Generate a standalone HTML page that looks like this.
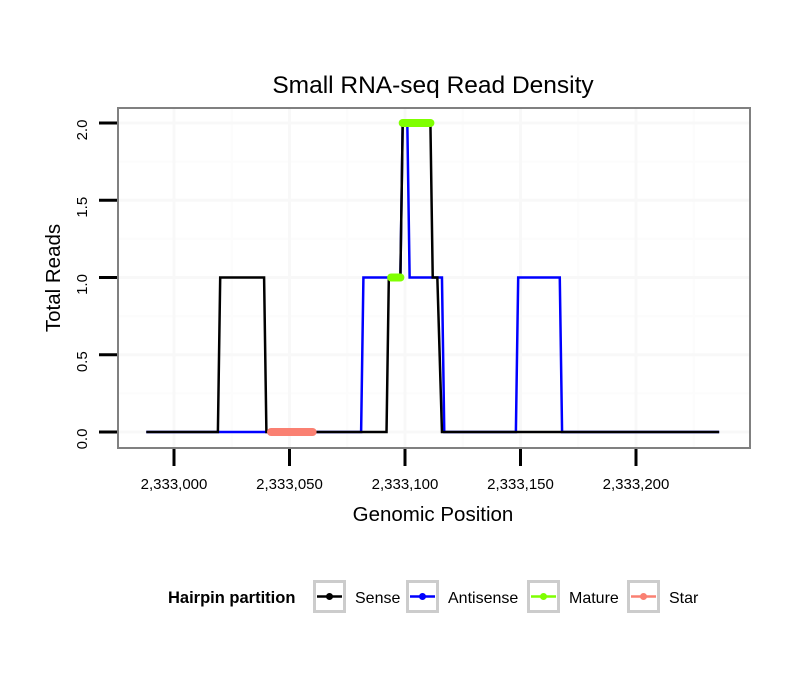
<!DOCTYPE html>
<html><head><meta charset="utf-8"><style>
body{margin:0;background:#fff;}
text{font-family:"Liberation Sans",sans-serif;}
</style></head><body>
<svg id="chart" width="810" height="690" xmlns="http://www.w3.org/2000/svg">
<rect width="810" height="690" fill="#fff"/>
<text x="433" y="93" font-size="24.5" text-anchor="middle">Small RNA-seq Read Density</text>
<rect x="118" y="108" width="632" height="340" fill="#fff"/>
<g id="grid"></g>
<g id="series"></g>
<rect x="118" y="108" width="632" height="340" fill="none" stroke="#808080" stroke-width="2"/>
<g id="axes"></g>
<text x="433" y="521" font-size="20.5" text-anchor="middle">Genomic Position</text>
<text transform="translate(60,278) rotate(-90)" font-size="20.5" text-anchor="middle">Total Reads</text>
<g>
<text x="168" y="603" font-size="16.5" font-weight="bold">Hairpin partition</text>
<g id="legend-keys"></g>
</g>
</svg>
<script>
const xTicks=[2333000,2333050,2333100,2333150,2333200];
const xTickLabels=["2,333,000","2,333,050","2,333,100","2,333,150","2,333,200"];
const yTicks=[0,0.5,1,1.5,2];
const yTickLabels=["0.0","0.5","1.0","1.5","2.0"];
const sensePos=[2332988,2333019,2333020,2333039,2333040,2333092,2333093,2333098,2333099,2333111,2333112,2333114,2333116,2333236];
const senseVal=[0,0,1,1,0,0,1,1,2,2,1,1,0,0];
const antiPos=[2332988,2333081,2333082,2333098,2333099,2333101,2333102,2333116,2333117,2333148,2333149,2333167,2333168,2333236];
const antiVal=[0,0,1,1,2,2,1,1,0,0,1,1,0,0];
const maturePos=[[2333094,2333098],[2333099,2333111]];
const matureVal=[1,2];
const starPos=[[2333042,2333060]];
const starVal=[0];
const legendLabels=["Sense","Antisense","Mature","Star"];
const legendColors=["#000000","#0000ff","#7fff00","#fa8072"];

const NS="http://www.w3.org/2000/svg";
const xs=v=>174+(v-2333000)*2.31;
const ys=v=>432-v*154.5;
function mk(tag,attrs,parent){const e=document.createElementNS(NS,tag);for(const k in attrs)e.setAttribute(k,attrs[k]);parent.appendChild(e);return e;}
const grid=document.getElementById('grid'),axes=document.getElementById('axes'),ser=document.getElementById('series');
for(let i=0;i<xTicks.length+1;i++){const v=xTicks[0]-25+i*50;const x=xs(v);if(x>118&&x<750){const g=mk('line',{x1:x,x2:x,y1:108,y2:448,stroke:'#fcfcfc','stroke-width':2},grid);}}
for(let i=0;i<yTicks.length-1;i++){const y=ys(yTicks[i]+0.25);const g=mk('line',{x1:118,x2:750,y1:y,y2:y,stroke:'#fcfcfc','stroke-width':2},grid);}
xTicks.forEach((v,i)=>{const x=xs(v);
 const g=mk('line',{x1:x,x2:x,y1:108,y2:448,stroke:'#f8f8f8','stroke-width':3},grid);
 const t=mk('line',{x1:x,x2:x,y1:449,y2:466,stroke:'#000','stroke-width':3},axes);
 const l=mk('text',{x:x,y:489,'font-size':15,'text-anchor':'middle'},axes);l.textContent=xTickLabels[i];});
yTicks.forEach((v,i)=>{const y=ys(v);
 const g=mk('line',{x1:118,x2:750,y1:y,y2:y,stroke:'#f8f8f8','stroke-width':3},grid);
 const t=mk('line',{x1:99,x2:117,y1:y,y2:y,stroke:'#000','stroke-width':3},axes);
 const l=mk('text',{transform:`translate(87,${y+7}) rotate(-90)`,'font-size':15,'text-anchor':'middle'},axes);l.textContent=yTickLabels[i];});
function line(pos,val,color,name){const pts=pos.map((p,i)=>xs(p)+','+ys(val[i])).join(' ');const e=mk('polyline',{points:pts,fill:'none',stroke:color,'stroke-width':2.5},ser);}
line(antiPos,antiVal,'#0000ff','antisense-line');
line(sensePos,senseVal,'#000000','sense-line');
function segs(pos,val,color,name){pos.forEach((p,i)=>{const e=mk('line',{x1:xs(p[0]),x2:xs(p[1]),y1:ys(val[i]),y2:ys(val[i]),stroke:color,'stroke-width':8,'stroke-linecap':'round'},ser);});}
segs(starPos,starVal,'#fa8072','star-segment');
segs(maturePos,matureVal,'#7fff00','mature-segment');
const lk=document.getElementById('legend-keys');
const boxX=[313,406,527,627];
legendLabels.forEach((lab,i)=>{const bx=boxX[i];
 const b=mk('rect',{x:bx+1.5,y:581.5,width:30,height:30,fill:'#fff',stroke:'#cccccc','stroke-width':3},lk);
 const l=mk('line',{x1:bx+4,x2:bx+29,y1:596.5,y2:596.5,stroke:legendColors[i],'stroke-width':2.5},lk);
 const c=mk('circle',{cx:bx+16.5,cy:596.5,r:3.5,fill:legendColors[i]},lk);
 const t=mk('text',{x:bx+42,y:603,'font-size':16},lk);t.textContent=lab;});
</script>
</body></html>
